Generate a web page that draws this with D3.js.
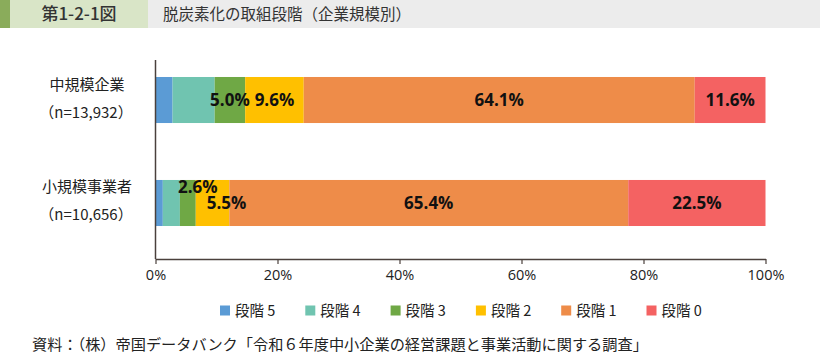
<!DOCTYPE html>
<html><head><meta charset="utf-8">
<script src="https://cdn.jsdelivr.net/npm/d3@7"></script>
<style>body{margin:0;background:#fff}svg{display:block}</style>
</head><body><svg id="c" width="820" height="356"></svg>
<script>
const categories = ["中規模企業", "小規模事業者"];
const sampleSizes = ["（n=13,932）", "（n=10,656）"];
const legendLabels = ["段階 5", "段階 4", "段階 3", "段階 2", "段階 1", "段階 0"];
const values = [
  [2.8, 6.9, 5.0, 9.6, 64.1, 11.6],
  [1.2, 2.8, 2.6, 5.5, 65.4, 22.5]
];
const showLabel = [false, false, true, true, true, true];
const ticks = [0, 20, 40, 60, 80, 100];
const colors = ["#5b9bd5", "#70c4b0", "#6fa845", "#ffc000", "#ee8c49", "#f46262"];
const titleNum = "第1-2-1図";
const titleText = "脱炭素化の取組段階（企業規模別）";
const sourceText = "資料：（株）帝国データバンク「令和６年度中小企業の経営課題と事業活動に関する調査」";

const svg = d3.select("#c");
const jp = "'Noto Sans CJK JP','Noto Sans',sans-serif";

// header
svg.append("rect").attr("x",0).attr("y",0).attr("width",820).attr("height",28).attr("fill","#ececec");
svg.append("rect").attr("x",0).attr("y",0).attr("width",148).attr("height",28).attr("fill","#d9e5c7");
svg.append("rect").attr("x",0).attr("y",0).attr("width",10).attr("height",28).attr("fill","#8aac5b");
svg.append("text").attr("x",79).attr("y",20).attr("text-anchor","middle")
  .attr("font-family",jp).attr("font-size",17).attr("font-weight",500).attr("fill","#333").text(titleNum);
svg.append("text").attr("x",163).attr("y",19.5)
  .attr("font-family",jp).attr("font-size",15.5).attr("fill","#333").text(titleText);

const x = d3.scaleLinear().domain([0,100]).range([155.5, 765.5]);
const y = d3.scaleBand().domain(categories).range([60, 243]).paddingInner(0.553).paddingOuter(0.165);

const g = svg.append("g");
values.forEach((row, i) => {
  let cum = 0;
  const segs = row.map((v, j) => { const s = {x0: cum, x1: cum + v, v, j}; cum += v; return s; });
  const bg = g.append("g");
  bg.selectAll("rect").data(segs).join("rect")
    .attr("x", d => x(d.x0)).attr("width", d => x(d.x1) - x(d.x0))
    .attr("y", y(categories[i])).attr("height", y.bandwidth())
    .attr("fill", d => colors[d.j]);
  const cy = y(categories[i]) + y.bandwidth()/2;
  segs.filter(d => showLabel[d.j]).forEach(d => {
    let dx = 0, dy = 0;
    if (i === 1 && d.j === 2) { dx = 10; dy = -16; }
    if (i === 1 && d.j === 3) { dx = 14; dy = 0; }
    bg.append("text").attr("x", (x(d.x0)+x(d.x1))/2 + dx).attr("y", cy + dy + 6)
      .attr("text-anchor","middle").attr("font-family","'Open Sans','Noto Sans',sans-serif")
      .attr("font-weight","bold").attr("font-size",17).attr("fill","#111")
      .text(d.v.toFixed(1) + "%");
  });
  // category labels
  svg.append("text").attr("x",87).attr("y",cy - 16 + 5.5).attr("text-anchor","middle")
    .attr("font-family",jp).attr("font-size",15).attr("fill","#222").text(categories[i]);
  svg.append("text").attr("x",86).attr("y",cy + 12 + 5.5).attr("text-anchor","middle")
    .attr("font-family",jp).attr("font-size",15).attr("fill","#222").text(sampleSizes[i]);
});

// axes
const axisY = 259;
const xa = svg.append("g").attr("transform",`translate(0,${axisY})`)
  .call(d3.axisBottom(x).tickValues(ticks).tickFormat(d => d + "%").tickSize(5).tickSizeOuter(0));
xa.select(".domain").attr("stroke","#4a403c").attr("stroke-width",1.5);
xa.selectAll(".tick line").attr("stroke","#4a403c").attr("stroke-width",1.2);
xa.selectAll(".tick text").attr("font-family","'Open Sans','Noto Sans',sans-serif").attr("font-size",14.5)
  .attr("fill","#222").attr("dy","0.9em");
svg.append("line").attr("x1",x(0)).attr("x2",x(0)).attr("y1",60).attr("y2",axisY)
  .attr("stroke","#4a403c").attr("stroke-width",1.5);

// legend
const lg = svg.append("g");
legendLabels.forEach((l, j) => {
  const lx = 220 + j*85.3;
  lg.append("rect").attr("x",lx).attr("y",305.5).attr("width",10).attr("height",10).attr("fill",colors[j]);
  lg.append("text").attr("x",lx+15).attr("y",316).attr("font-family",jp).attr("font-size",14.5)
    .attr("fill","#222").text(l);
});

svg.append("text").attr("x",32).attr("y",350).attr("font-family",jp).attr("font-size",15.2)
  .attr("fill","#222").text(sourceText);
</script></body></html>
